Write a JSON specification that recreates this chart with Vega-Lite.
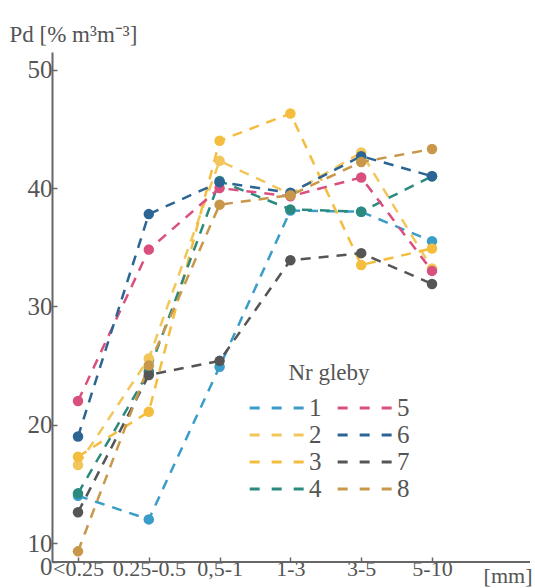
{
  "$schema": "https://vega.github.io/schema/vega-lite/v6.json",
  "autosize": {"type": "none"},
  "width": 478,
  "height": 510,
  "padding": {"left": 52, "top": 52, "right": 5, "bottom": 26},
  "background": "white",
  "config": {
    "font": "Liberation Serif",
    "view": {"stroke": null},
    "axis": {"labelFont": "Liberation Serif", "titleFont": "Liberation Serif", "labelColor": "#555", "titleColor": "#555", "domainColor": "#666", "tickColor": "#666", "grid": false, "domainWidth": 2}
  },
  "data": {
    "values": [
      {"frakcja": "<0.25", "gleba": "1", "Pd": 14.0},
      {"frakcja": "0.25-0.5", "gleba": "1", "Pd": 12.0},
      {"frakcja": "0,5-1", "gleba": "1", "Pd": 24.9},
      {"frakcja": "1-3", "gleba": "1", "Pd": 38.1},
      {"frakcja": "3-5", "gleba": "1", "Pd": 38.0},
      {"frakcja": "5-10", "gleba": "1", "Pd": 35.5},

      {"frakcja": "<0.25", "gleba": "2", "Pd": 16.6},
      {"frakcja": "0.25-0.5", "gleba": "2", "Pd": 25.6},
      {"frakcja": "0,5-1", "gleba": "2", "Pd": 42.3},
      {"frakcja": "1-3", "gleba": "2", "Pd": 39.5},
      {"frakcja": "3-5", "gleba": "2", "Pd": 43.0},
      {"frakcja": "5-10", "gleba": "2", "Pd": 33.2},

      {"frakcja": "<0.25", "gleba": "3", "Pd": 17.3},
      {"frakcja": "0.25-0.5", "gleba": "3", "Pd": 21.1},
      {"frakcja": "0,5-1", "gleba": "3", "Pd": 44.0},
      {"frakcja": "1-3", "gleba": "3", "Pd": 46.3},
      {"frakcja": "3-5", "gleba": "3", "Pd": 33.5},
      {"frakcja": "5-10", "gleba": "3", "Pd": 34.9},

      {"frakcja": "<0.25", "gleba": "4", "Pd": 14.2},
      {"frakcja": "0.25-0.5", "gleba": "4", "Pd": 24.5},
      {"frakcja": "0,5-1", "gleba": "4", "Pd": 40.6},
      {"frakcja": "1-3", "gleba": "4", "Pd": 38.2},
      {"frakcja": "3-5", "gleba": "4", "Pd": 38.0},
      {"frakcja": "5-10", "gleba": "4", "Pd": 41.0},

      {"frakcja": "<0.25", "gleba": "5", "Pd": 22.0},
      {"frakcja": "0.25-0.5", "gleba": "5", "Pd": 34.8},
      {"frakcja": "0,5-1", "gleba": "5", "Pd": 40.0},
      {"frakcja": "1-3", "gleba": "5", "Pd": 39.3},
      {"frakcja": "3-5", "gleba": "5", "Pd": 40.9},
      {"frakcja": "5-10", "gleba": "5", "Pd": 33.0},

      {"frakcja": "<0.25", "gleba": "6", "Pd": 19.0},
      {"frakcja": "0.25-0.5", "gleba": "6", "Pd": 37.8},
      {"frakcja": "0,5-1", "gleba": "6", "Pd": 40.5},
      {"frakcja": "1-3", "gleba": "6", "Pd": 39.6},
      {"frakcja": "3-5", "gleba": "6", "Pd": 42.7},
      {"frakcja": "5-10", "gleba": "6", "Pd": 41.0},

      {"frakcja": "<0.25", "gleba": "7", "Pd": 12.6},
      {"frakcja": "0.25-0.5", "gleba": "7", "Pd": 24.2},
      {"frakcja": "0,5-1", "gleba": "7", "Pd": 25.4},
      {"frakcja": "1-3", "gleba": "7", "Pd": 33.9},
      {"frakcja": "3-5", "gleba": "7", "Pd": 34.5},
      {"frakcja": "5-10", "gleba": "7", "Pd": 31.9},

      {"frakcja": "<0.25", "gleba": "8", "Pd": 9.3},
      {"frakcja": "0.25-0.5", "gleba": "8", "Pd": 25.0},
      {"frakcja": "0,5-1", "gleba": "8", "Pd": 38.6},
      {"frakcja": "1-3", "gleba": "8", "Pd": 39.4},
      {"frakcja": "3-5", "gleba": "8", "Pd": 42.2},
      {"frakcja": "5-10", "gleba": "8", "Pd": 43.3}
    ]
  },
  "layer": [
    {
      "mark": {"type": "rule", "color": "#666", "strokeWidth": 2},
      "encoding": {"y": {"datum": 8.4, "type": "quantitative"}}
    },
    {
      "mark": {"type": "line", "strokeDash": [10, 8], "strokeWidth": 2.5, "point": {"filled": true, "size": 110, "opacity": 1}},
      "encoding": {
        "x": {
          "field": "frakcja", "type": "ordinal",
          "sort": ["<0.25", "0.25-0.5", "0,5-1", "1-3", "3-5", "5-10"],
          "scale": {"type": "point", "range": [26, 380], "padding": 0},
          "axis": {
            "title": "[mm]", "titleFontSize": 22, "titleFontWeight": "normal", "titleAngle": 0,
            "titleAlign": "right", "titleAnchor": "end", "titleX": 480, "titleY": 3, "titleBaseline": "top",
            "labelFontSize": 22, "labelAngle": 0, "labelPadding": 1, "domain": false, "labelOverlap": false,
            "tickSize": -5, "tickWidth": 1.5
          }
        },
        "y": {
          "field": "Pd", "type": "quantitative",
          "scale": {"domain": [8.4, 51.5], "nice": false, "zero": false},
          "axis": {
            "values": [8.4, 10, 20, 30, 40, 50],
            "labelExpr": "datum.value < 9 ? '0' : datum.label",
            "labelOffset": {"condition": {"test": "datum.value < 9", "value": 4}, "value": 0},
            "labelOverlap": false, "labelFontSize": 25, "labelPadding": 5,
            "tickSize": -5, "tickWidth": 1.5,
            "title": "Pd [% m³m⁻³]", "titleAngle": 0, "titleFontSize": 23, "titleFontWeight": "normal",
            "titleAlign": "left", "titleBaseline": "middle", "titleX": -43, "titleY": -18
          }
        },
        "color": {
          "field": "gleba", "type": "nominal",
          "scale": {
            "domain": ["1", "2", "3", "4", "5", "6", "7", "8"],
            "range": ["#3a9cc8", "#f2c65a", "#f4bd3e", "#2a8a7e", "#d9507f", "#2c6594", "#555555", "#c8974a"]
          },
          "legend": {
            "title": "Nr gleby", "orient": "none", "legendX": 196, "legendY": 310,
            "columns": 2, "direction": "vertical",
            "titleFont": "Liberation Serif", "titleFontSize": 23, "titleFontWeight": "normal", "titleColor": "#555",
            "titleAnchor": "middle", "titlePadding": 10,
            "labelFont": "Liberation Serif", "labelFontSize": 25, "labelColor": "#555", "labelOffset": 2,
            "symbolType": "stroke", "symbolSize": 3100, "symbolStrokeWidth": 3, "symbolDash": [10, 12],
            "symbolOpacity": 1, "columnPadding": 14, "rowPadding": 1, "clipHeight": 26
          }
        }
      }
    }
  ]
}
